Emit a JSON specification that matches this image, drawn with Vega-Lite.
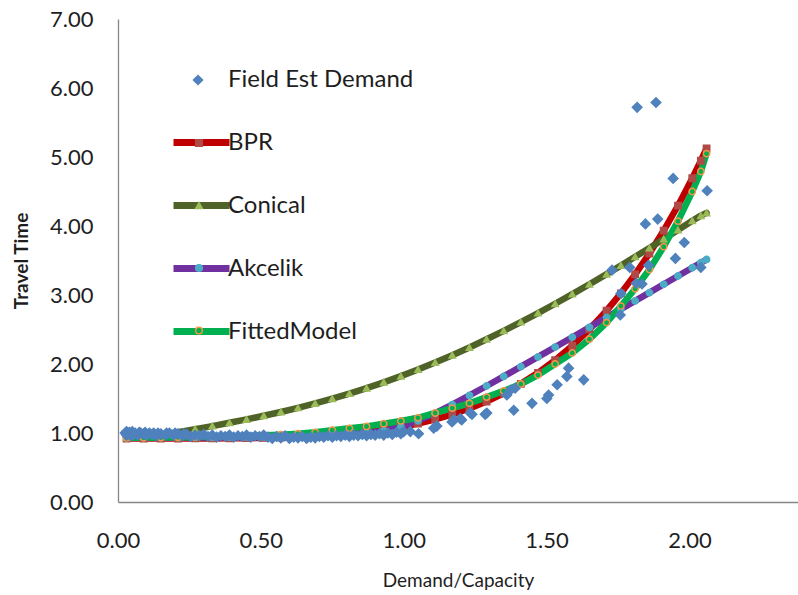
{
  "$schema": "https://vega.github.io/schema/vega-lite/v6.json",
  "width": 680,
  "height": 483,
  "autosize": "none",
  "padding": {"left": 118, "top": 19, "right": 0, "bottom": 93},
  "background": "white",
  "config": {
    "view": {"stroke": null},
    "font": "Lato",
    "axis": {"labelFont": "Lato", "titleFont": "Lato", "labelColor": "#1e1e1e", "titleColor": "#1e1e1e", "grid": false, "ticks": false, "labelFlush": false, "domainColor": "#868686", "domainWidth": 1.3}
  },
  "datasets": {
    "field": [
      {"x": 0.025, "y": 1.0}, {"x": 0.03, "y": 0.97}, {"x": 0.03, "y": 1.02}, {"x": 0.035, "y": 0.99}, {"x": 0.04, "y": 1.01},
      {"x": 0.045, "y": 0.96}, {"x": 0.05, "y": 1.02}, {"x": 0.055, "y": 0.98}, {"x": 0.06, "y": 1.0}, {"x": 0.07, "y": 0.97},
      {"x": 0.075, "y": 1.01}, {"x": 0.08, "y": 1.0}, {"x": 0.09, "y": 0.99}, {"x": 0.095, "y": 1.01}, {"x": 0.1, "y": 0.97}, {"x": 0.11, "y": 1.0}, {"x": 0.12, "y": 0.98},
      {"x": 0.125, "y": 1.0}, {"x": 0.135, "y": 0.96}, {"x": 0.14, "y": 1.0}, {"x": 0.15, "y": 0.99}, {"x": 0.165, "y": 0.97}, {"x": 0.17, "y": 1.0}, {"x": 0.18, "y": 1.0}, {"x": 0.195, "y": 0.97},
      {"x": 0.2, "y": 1.0}, {"x": 0.21, "y": 0.99}, {"x": 0.225, "y": 0.96}, {"x": 0.23, "y": 0.99}, {"x": 0.24, "y": 0.98}, {"x": 0.255, "y": 0.95}, {"x": 0.27, "y": 0.97},
      {"x": 0.285, "y": 0.96}, {"x": 0.3, "y": 0.98}, {"x": 0.315, "y": 0.95}, {"x": 0.33, "y": 0.97}, {"x": 0.345, "y": 0.94},
      {"x": 0.36, "y": 0.96}, {"x": 0.375, "y": 0.95}, {"x": 0.39, "y": 0.97}, {"x": 0.405, "y": 0.94}, {"x": 0.42, "y": 0.96},
      {"x": 0.435, "y": 0.95}, {"x": 0.45, "y": 0.97}, {"x": 0.465, "y": 0.94}, {"x": 0.48, "y": 0.96}, {"x": 0.495, "y": 0.95},
      {"x": 0.51, "y": 0.97}, {"x": 0.525, "y": 0.94}, {"x": 0.54, "y": 0.92}, {"x": 0.555, "y": 0.95}, {"x": 0.57, "y": 0.93},
      {"x": 0.585, "y": 0.96}, {"x": 0.6, "y": 0.92}, {"x": 0.615, "y": 0.94}, {"x": 0.63, "y": 0.93}, {"x": 0.645, "y": 0.95},
      {"x": 0.66, "y": 0.92}, {"x": 0.675, "y": 0.94}, {"x": 0.69, "y": 0.93}, {"x": 0.705, "y": 0.95}, {"x": 0.72, "y": 0.94},
      {"x": 0.735, "y": 0.96}, {"x": 0.75, "y": 0.94}, {"x": 0.765, "y": 0.96}, {"x": 0.78, "y": 0.95}, {"x": 0.795, "y": 0.97},
      {"x": 0.81, "y": 0.95}, {"x": 0.825, "y": 0.97}, {"x": 0.84, "y": 0.96}, {"x": 0.855, "y": 0.98}, {"x": 0.87, "y": 0.96},
      {"x": 0.885, "y": 0.98}, {"x": 0.9, "y": 0.97}, {"x": 0.915, "y": 0.99}, {"x": 0.93, "y": 0.97}, {"x": 0.945, "y": 1.0},
      {"x": 0.96, "y": 0.98}, {"x": 0.975, "y": 1.01}, {"x": 0.99, "y": 0.99}, {"x": 1.0, "y": 1.02},
      {"x": 1.023, "y": 1.02}, {"x": 1.052, "y": 0.99}, {"x": 1.105, "y": 1.07}, {"x": 1.116, "y": 1.1}, {"x": 1.169, "y": 1.16},
      {"x": 1.175, "y": 1.19}, {"x": 1.198, "y": 1.21}, {"x": 1.203, "y": 1.19}, {"x": 1.233, "y": 1.29}, {"x": 1.239, "y": 1.27},
      {"x": 1.285, "y": 1.27}, {"x": 1.291, "y": 1.29}, {"x": 1.361, "y": 1.55}, {"x": 1.373, "y": 1.62}, {"x": 1.39, "y": 1.65},
      {"x": 1.385, "y": 1.33}, {"x": 1.449, "y": 1.43}, {"x": 1.501, "y": 1.5}, {"x": 1.507, "y": 1.55}, {"x": 1.537, "y": 1.7},
      {"x": 1.571, "y": 1.82}, {"x": 1.577, "y": 1.94}, {"x": 1.63, "y": 1.77}, {"x": 1.729, "y": 3.36}, {"x": 1.758, "y": 2.71},
      {"x": 1.76, "y": 3.02}, {"x": 1.791, "y": 3.4}, {"x": 1.814, "y": 3.17}, {"x": 1.834, "y": 3.16}, {"x": 1.857, "y": 3.43},
      {"x": 1.817, "y": 5.72}, {"x": 1.883, "y": 5.79}, {"x": 1.943, "y": 4.69}, {"x": 2.062, "y": 4.51}, {"x": 1.846, "y": 4.03},
      {"x": 1.889, "y": 4.1}, {"x": 1.982, "y": 3.76}, {"x": 1.951, "y": 3.53}, {"x": 2.04, "y": 3.4}
    ],
    "models": [
      {"m": "BPR", "x": 0.03, "y": 0.92}, {"m": "BPR", "x": 0.09, "y": 0.92}, {"m": "BPR", "x": 0.15, "y": 0.92}, {"m": "BPR", "x": 0.21, "y": 0.92},
      {"m": "BPR", "x": 0.27, "y": 0.921}, {"m": "BPR", "x": 0.33, "y": 0.921}, {"m": "BPR", "x": 0.39, "y": 0.923}, {"m": "BPR", "x": 0.45, "y": 0.925},
      {"m": "BPR", "x": 0.51, "y": 0.929}, {"m": "BPR", "x": 0.57, "y": 0.935}, {"m": "BPR", "x": 0.63, "y": 0.943}, {"m": "BPR", "x": 0.69, "y": 0.954},
      {"m": "BPR", "x": 0.75, "y": 0.969}, {"m": "BPR", "x": 0.81, "y": 0.989}, {"m": "BPR", "x": 0.87, "y": 1.015}, {"m": "BPR", "x": 0.93, "y": 1.047},
      {"m": "BPR", "x": 0.99, "y": 1.087}, {"m": "BPR", "x": 1.05, "y": 1.137}, {"m": "BPR", "x": 1.11, "y": 1.197}, {"m": "BPR", "x": 1.17, "y": 1.269},
      {"m": "BPR", "x": 1.23, "y": 1.355}, {"m": "BPR", "x": 1.29, "y": 1.456}, {"m": "BPR", "x": 1.35, "y": 1.575}, {"m": "BPR", "x": 1.41, "y": 1.713},
      {"m": "BPR", "x": 1.47, "y": 1.872}, {"m": "BPR", "x": 1.53, "y": 2.055}, {"m": "BPR", "x": 1.59, "y": 2.265}, {"m": "BPR", "x": 1.65, "y": 2.503},
      {"m": "BPR", "x": 1.71, "y": 2.773}, {"m": "BPR", "x": 1.76, "y": 3.023}, {"m": "BPR", "x": 1.81, "y": 3.299}, {"m": "BPR", "x": 1.86, "y": 3.602},
      {"m": "BPR", "x": 1.91, "y": 3.934}, {"m": "BPR", "x": 1.96, "y": 4.295}, {"m": "BPR", "x": 2.01, "y": 4.692}, {"m": "BPR", "x": 2.04, "y": 4.946},
      {"m": "BPR", "x": 2.06, "y": 5.124},
      {"m": "Conical", "x": 0.03, "y": 0.93}, {"m": "Conical", "x": 0.09, "y": 0.95}, {"m": "Conical", "x": 0.15, "y": 0.975}, {"m": "Conical", "x": 0.21, "y": 1.01},
      {"m": "Conical", "x": 0.27, "y": 1.055}, {"m": "Conical", "x": 0.33, "y": 1.1}, {"m": "Conical", "x": 0.39, "y": 1.148}, {"m": "Conical", "x": 0.45, "y": 1.197},
      {"m": "Conical", "x": 0.51, "y": 1.25}, {"m": "Conical", "x": 0.57, "y": 1.305}, {"m": "Conical", "x": 0.63, "y": 1.364}, {"m": "Conical", "x": 0.69, "y": 1.428},
      {"m": "Conical", "x": 0.75, "y": 1.497}, {"m": "Conical", "x": 0.81, "y": 1.571}, {"m": "Conical", "x": 0.87, "y": 1.65}, {"m": "Conical", "x": 0.93, "y": 1.734},
      {"m": "Conical", "x": 0.99, "y": 1.824}, {"m": "Conical", "x": 1.05, "y": 1.92}, {"m": "Conical", "x": 1.11, "y": 2.021}, {"m": "Conical", "x": 1.17, "y": 2.128},
      {"m": "Conical", "x": 1.23, "y": 2.24}, {"m": "Conical", "x": 1.29, "y": 2.358}, {"m": "Conical", "x": 1.35, "y": 2.48}, {"m": "Conical", "x": 1.41, "y": 2.607},
      {"m": "Conical", "x": 1.47, "y": 2.738}, {"m": "Conical", "x": 1.53, "y": 2.873}, {"m": "Conical", "x": 1.59, "y": 3.013}, {"m": "Conical", "x": 1.65, "y": 3.156},
      {"m": "Conical", "x": 1.71, "y": 3.302}, {"m": "Conical", "x": 1.76, "y": 3.426}, {"m": "Conical", "x": 1.81, "y": 3.553}, {"m": "Conical", "x": 1.86, "y": 3.681},
      {"m": "Conical", "x": 1.91, "y": 3.81}, {"m": "Conical", "x": 1.96, "y": 3.942}, {"m": "Conical", "x": 2.01, "y": 4.075}, {"m": "Conical", "x": 2.04, "y": 4.15},
      {"m": "Conical", "x": 2.06, "y": 4.19},
      {"m": "Akcelik", "x": 0.03, "y": 0.93}, {"m": "Akcelik", "x": 0.09, "y": 0.931}, {"m": "Akcelik", "x": 0.15, "y": 0.932}, {"m": "Akcelik", "x": 0.21, "y": 0.933},
      {"m": "Akcelik", "x": 0.27, "y": 0.935}, {"m": "Akcelik", "x": 0.33, "y": 0.936}, {"m": "Akcelik", "x": 0.39, "y": 0.938}, {"m": "Akcelik", "x": 0.45, "y": 0.94},
      {"m": "Akcelik", "x": 0.51, "y": 0.942}, {"m": "Akcelik", "x": 0.57, "y": 0.946}, {"m": "Akcelik", "x": 0.63, "y": 0.95}, {"m": "Akcelik", "x": 0.69, "y": 0.956},
      {"m": "Akcelik", "x": 0.75, "y": 0.964}, {"m": "Akcelik", "x": 0.81, "y": 0.977}, {"m": "Akcelik", "x": 0.87, "y": 0.997}, {"m": "Akcelik", "x": 0.93, "y": 1.031},
      {"m": "Akcelik", "x": 0.99, "y": 1.088}, {"m": "Akcelik", "x": 1.05, "y": 1.176}, {"m": "Akcelik", "x": 1.11, "y": 1.287}, {"m": "Akcelik", "x": 1.17, "y": 1.412},
      {"m": "Akcelik", "x": 1.23, "y": 1.544}, {"m": "Akcelik", "x": 1.29, "y": 1.681}, {"m": "Akcelik", "x": 1.35, "y": 1.82}, {"m": "Akcelik", "x": 1.41, "y": 1.961},
      {"m": "Akcelik", "x": 1.47, "y": 2.103}, {"m": "Akcelik", "x": 1.53, "y": 2.245}, {"m": "Akcelik", "x": 1.59, "y": 2.388}, {"m": "Akcelik", "x": 1.65, "y": 2.531},
      {"m": "Akcelik", "x": 1.71, "y": 2.675}, {"m": "Akcelik", "x": 1.76, "y": 2.795}, {"m": "Akcelik", "x": 1.81, "y": 2.914}, {"m": "Akcelik", "x": 1.86, "y": 3.034},
      {"m": "Akcelik", "x": 1.91, "y": 3.155}, {"m": "Akcelik", "x": 1.96, "y": 3.275}, {"m": "Akcelik", "x": 2.01, "y": 3.395}, {"m": "Akcelik", "x": 2.04, "y": 3.467},
      {"m": "Akcelik", "x": 2.06, "y": 3.515},
      {"m": "FittedModel", "x": 0.03, "y": 0.93}, {"m": "FittedModel", "x": 0.09, "y": 0.931}, {"m": "FittedModel", "x": 0.15, "y": 0.933}, {"m": "FittedModel", "x": 0.21, "y": 0.936},
      {"m": "FittedModel", "x": 0.27, "y": 0.94}, {"m": "FittedModel", "x": 0.33, "y": 0.945}, {"m": "FittedModel", "x": 0.39, "y": 0.951}, {"m": "FittedModel", "x": 0.45, "y": 0.958},
      {"m": "FittedModel", "x": 0.51, "y": 0.966}, {"m": "FittedModel", "x": 0.57, "y": 0.976}, {"m": "FittedModel", "x": 0.63, "y": 0.99}, {"m": "FittedModel", "x": 0.69, "y": 1.01},
      {"m": "FittedModel", "x": 0.75, "y": 1.04}, {"m": "FittedModel", "x": 0.81, "y": 1.068}, {"m": "FittedModel", "x": 0.87, "y": 1.095}, {"m": "FittedModel", "x": 0.93, "y": 1.135},
      {"m": "FittedModel", "x": 0.99, "y": 1.175}, {"m": "FittedModel", "x": 1.05, "y": 1.22}, {"m": "FittedModel", "x": 1.11, "y": 1.29}, {"m": "FittedModel", "x": 1.17, "y": 1.36},
      {"m": "FittedModel", "x": 1.23, "y": 1.43}, {"m": "FittedModel", "x": 1.29, "y": 1.52}, {"m": "FittedModel", "x": 1.35, "y": 1.61}, {"m": "FittedModel", "x": 1.41, "y": 1.71},
      {"m": "FittedModel", "x": 1.47, "y": 1.84}, {"m": "FittedModel", "x": 1.53, "y": 2.0}, {"m": "FittedModel", "x": 1.59, "y": 2.16}, {"m": "FittedModel", "x": 1.65, "y": 2.36},
      {"m": "FittedModel", "x": 1.71, "y": 2.6}, {"m": "FittedModel", "x": 1.76, "y": 2.84}, {"m": "FittedModel", "x": 1.81, "y": 3.09}, {"m": "FittedModel", "x": 1.86, "y": 3.37},
      {"m": "FittedModel", "x": 1.91, "y": 3.7}, {"m": "FittedModel", "x": 1.96, "y": 4.07}, {"m": "FittedModel", "x": 2.01, "y": 4.5}, {"m": "FittedModel", "x": 2.04, "y": 4.79},
      {"m": "FittedModel", "x": 2.06, "y": 5.05}
    ]
  },
  "encoding": {
    "x": {"field": "x", "type": "quantitative", "scale": {"domain": [0, 2.38], "nice": false, "zero": false},
      "axis": {"values": [0, 0.5, 1, 1.5, 2], "format": ".2f", "labelFontSize": 22, "labelPadding": 28, "title": "Demand/Capacity", "titleFontSize": 19, "titleFontWeight": "normal", "titlePadding": 20}},
    "y": {"field": "y", "type": "quantitative", "scale": {"domain": [0, 7], "nice": false},
      "axis": {"values": [0, 1, 2, 3, 4, 5, 6, 7], "format": ".2f", "labelFontSize": 22, "labelPadding": 25, "title": "Travel Time", "titleFontSize": 19, "titleFontWeight": "bold", "titlePadding": 18}}
  },
  "resolve": {"scale": {"shape": "independent", "fill": "independent", "stroke": "independent"}},
  "layer": [
    {
      "data": {"name": "models"},
      "mark": {"type": "line", "strokeWidth": 6.5, "strokeCap": "round", "strokeJoin": "round"},
      "encoding": {
        "color": {"field": "m", "type": "nominal",
          "scale": {"domain": ["BPR", "Conical", "Akcelik", "FittedModel"], "range": ["#C00000", "#4F6228", "#7030A0", "#00B050"]},
          "legend": {"orient": "none", "legendX": 52, "legendY": 92, "title": null, "symbolType": "stroke", "symbolSize": 3136, "symbolStrokeWidth": 7,
            "labelFont": "Lato", "labelFontSize": 24, "labelColor": "#1e1e1e", "labelOffset": -5, "rowPadding": 17, "padding": 0, "labelLimit": 400}}
      }
    },
    {
      "data": {"name": "models"},
      "mark": {"type": "point", "filled": true, "size": 40, "strokeWidth": 1.5, "opacity": 1},
      "encoding": {
        "shape": {"field": "m", "type": "nominal", "scale": {"domain": ["BPR", "Conical", "Akcelik", "FittedModel"], "range": ["square", "triangle-up", "circle", "circle"]},
          "legend": {"orient": "none", "legendX": 69, "legendY": 112, "title": null, "labelExpr": "''", "symbolSize": 45, "symbolStrokeWidth": 1.5, "symbolOpacity": 1,
            "labelFontSize": 24, "rowPadding": 38.5, "padding": 0}},
        "fill": {"field": "m", "type": "nominal", "scale": {"domain": ["BPR", "Conical", "Akcelik", "FittedModel"], "range": ["#B04A47", "#9BBB59", "#4BACC6", "#00B050"]},
          "legend": {"orient": "none", "legendX": 69, "legendY": 112, "title": null, "labelExpr": "''", "symbolSize": 45, "symbolStrokeWidth": 1.5, "symbolOpacity": 1,
            "labelFontSize": 24, "rowPadding": 38.5, "padding": 0}},
        "stroke": {"field": "m", "type": "nominal", "scale": {"domain": ["BPR", "Conical", "Akcelik", "FittedModel"], "range": ["#B04A47", "#9BBB59", "#4BACC6", "#F79646"]},
          "legend": {"orient": "none", "legendX": 69, "legendY": 112, "title": null, "labelExpr": "''", "symbolSize": 45, "symbolStrokeWidth": 1.5, "symbolOpacity": 1,
            "labelFontSize": 24, "rowPadding": 38.5, "padding": 0}}
      }
    },
    {
      "data": {"name": "field"},
      "mark": {"type": "point", "filled": true, "size": 135, "color": "#4F81BD", "opacity": 1},
      "encoding": {
        "shape": {"datum": "Field Est Demand", "type": "nominal", "scale": {"range": ["diamond"]},
          "legend": {"orient": "none", "legendX": 68, "legendY": 49, "title": null, "symbolFillColor": "#4F81BD", "symbolStrokeColor": "#4F81BD", "symbolStrokeWidth": 0, "symbolSize": 125,
            "labelFont": "Lato", "labelFontSize": 24, "labelColor": "#1e1e1e", "labelOffset": 18, "padding": 0, "labelLimit": 400}}
      }
    }
  ]
}
